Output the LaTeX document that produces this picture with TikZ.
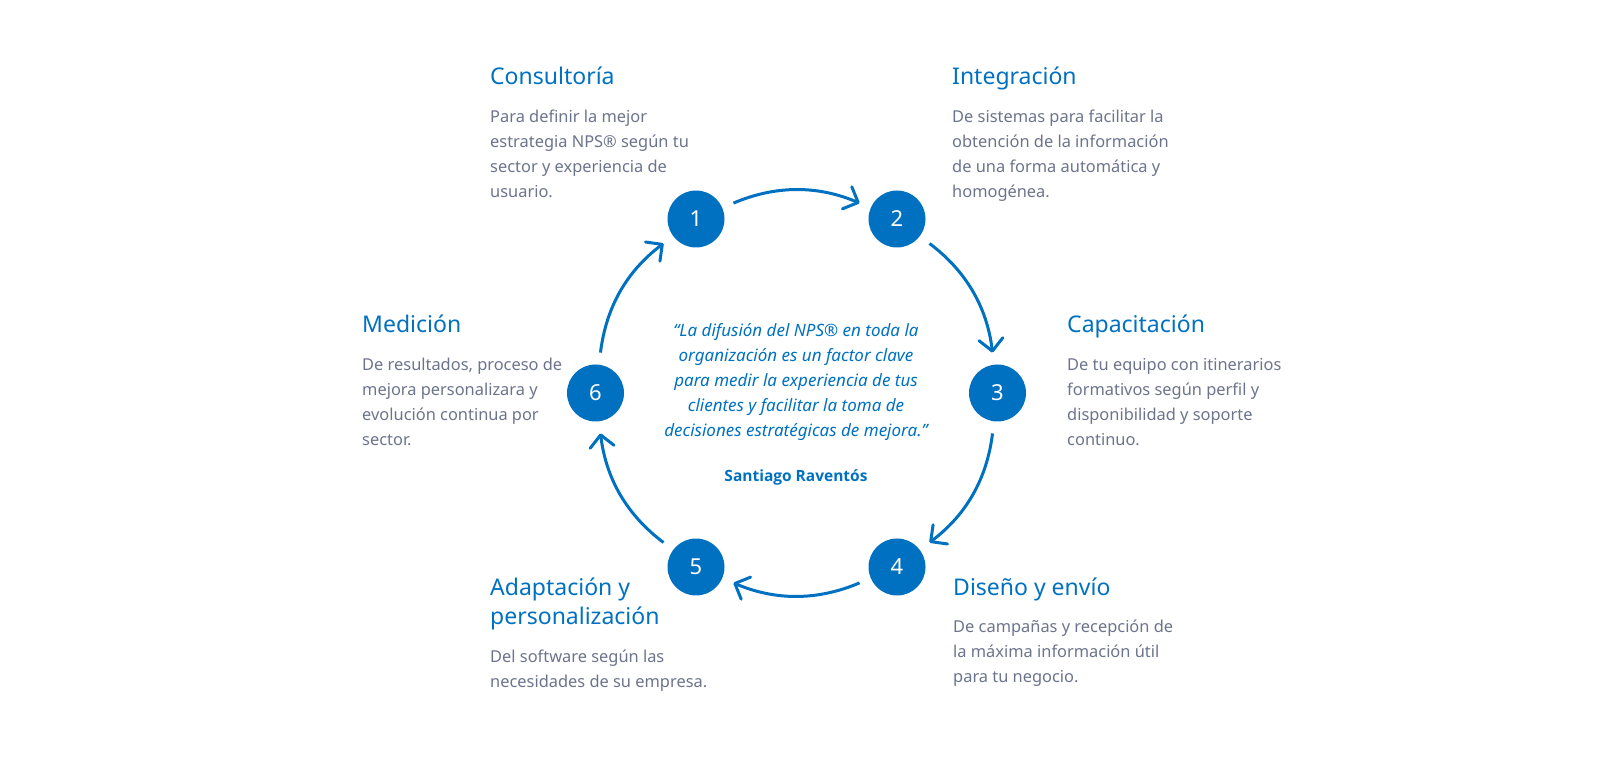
\documentclass[tikz,border=0pt]{standalone}
\usepackage{fontspec}
\setmainfont{Noto Sans}
\newfontfamily\authfont{Open Sans}
\usetikzlibrary{arrows.meta}
\definecolor{npsblue}{RGB}{0,113,193}
\definecolor{bodygrey}{RGB}{108,116,140}
\newcommand{\ttlfont}{\fontsize{23}{28.5}\selectfont}
\newcommand{\bdyfont}{\fontsize{16.4}{25}\selectfont}
\tikzset{
  stepnum/.style={circle, fill=npsblue, inner sep=0pt, minimum size=57pt,
    text=white, font=\fontsize{22}{26}\selectfont},
  ttl/.style={anchor=base west, inner sep=0pt, text=npsblue, font=\ttlfont},
  bdy/.style={anchor=base west, inner sep=0pt, text=bodygrey, font=\bdyfont},
  arr/.style={draw=npsblue, line width=3pt,
    -{Straight Barb[length=12pt,width=24pt,line cap=round,line join=round]},
    shorten <=12pt, shorten >=12pt},
}
\begin{document}
\begin{tikzpicture}[x=1pt,y=1pt]
\useasboundingbox (0,0) rectangle (1600,771);
% step circles
\node[stepnum] (n1) at (696,552) {1};
\node[stepnum] (n2) at (897,552) {2};
\node[stepnum] (n3) at (997.5,378) {3};
\node[stepnum] (n4) at (897,204) {4};
\node[stepnum] (n5) at (696,204) {5};
\node[stepnum] (n6) at (595.5,378) {6};
% connectors
\draw[arr] (n1) to[bend left=23] (n2);
\draw[arr] (n2) to[bend left=23] (n3);
\draw[arr] (n3) to[bend left=23] (n4);
\draw[arr] (n4) to[bend left=23] (n5);
\draw[arr] (n5) to[bend left=23] (n6);
\draw[arr] (n6) to[bend left=23] (n1);
% Consultoria
\node[ttl] (t1) at (490,686) {Consultoría};
\node[bdy] (b1) at (490,648) {\parbox[t]{260pt}{Para definir la mejor\\estrategia NPS® según tu\\sector y experiencia de\\usuario.}};
% Integracion
\node[ttl] (t2) at (952,686) {Integración};
\node[bdy] (b2) at (952,648) {\parbox[t]{260pt}{De sistemas para facilitar la\\obtención de la información\\de una forma automática y\\homogénea.}};
% Capacitacion
\node[ttl] (t3) at (1067,438) {Capacitación};
\node[bdy] (b3) at (1067,400.5) {\parbox[t]{260pt}{De tu equipo con itinerarios\\formativos según perfil y\\disponibilidad y soporte\\continuo.}};
% Medicion
\node[ttl] (t6) at (362,438) {Medición};
\node[bdy] (b6) at (362,400.5) {\parbox[t]{260pt}{De resultados, proceso de\\mejora personalizara y\\evolución continua por\\sector.}};
% Adaptacion
\node[ttl] (t5) at (490,175) {\parbox[t]{260pt}{Adaptación y\\personalización}};
\node[bdy] (b5) at (490,108.5) {\parbox[t]{260pt}{Del software según las\\necesidades de su empresa.}};
% Diseno
\node[ttl] (t4) at (953,175) {Diseño y envío};
\node[bdy] (b4) at (953,138.5) {\parbox[t]{260pt}{De campañas y recepción de\\la máxima información útil\\para tu negocio.}};
% quote
\node[anchor=base, inner sep=0pt, text=npsblue, font=\fontsize{17}{25}\selectfont\itshape] (q) at (796,434.7) {\parbox[t]{360pt}{\centering “La difusión del NPS® en toda la\\organización es un factor clave\\para medir la experiencia de tus\\clientes y facilitar la toma de\\decisiones estratégicas de mejora."}};
\node[anchor=base, inner sep=0pt, font=\authfont\fontsize{15.5}{20}\selectfont\bfseries, text=npsblue] (auth) at (796,289) {Santiago Raventós};
\end{tikzpicture}
\end{document}
